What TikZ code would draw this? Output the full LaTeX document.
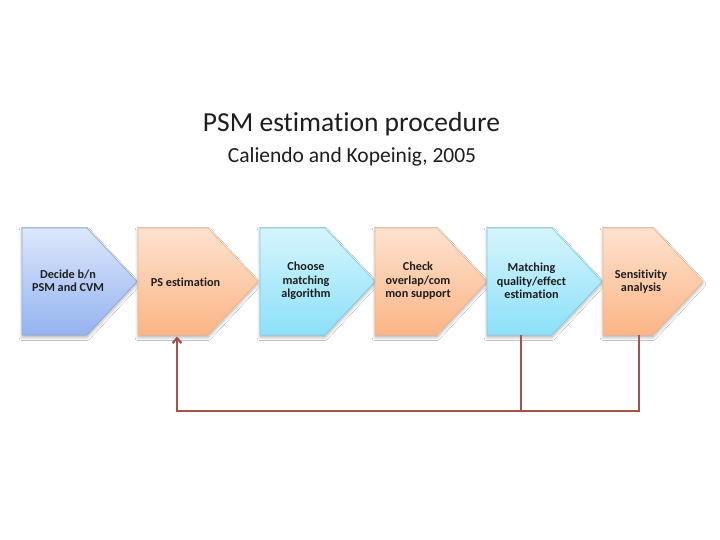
\documentclass[tikz,border=0pt]{standalone}
\usepackage{fontspec}
\setmainfont{Carlito}[Ligatures=CommonOff]
\usetikzlibrary{arrows.meta,calc,shadows.blur}
\definecolor{bluetop}{HTML}{DCE7FB}
\definecolor{bluebot}{HTML}{95B3F0}
\definecolor{blueedge}{HTML}{8BA8DE}
\definecolor{orgtop}{HTML}{FDE2CF}
\definecolor{orgbot}{HTML}{FBB585}
\definecolor{orgedge}{HTML}{F5B487}
\definecolor{cyantop}{HTML}{D6F5FD}
\definecolor{cyanbot}{HTML}{8CE0F8}
\definecolor{cyanedge}{HTML}{7ACFEA}
\definecolor{fbred}{HTML}{A5514E}
\definecolor{txt}{HTML}{1E1E1E}
\tikzset{
  boxframe/.style={minimum height=107pt,inner sep=0pt,outer sep=0pt},
  pentblue/.style={top color=bluetop,bottom color=bluebot,draw=blueedge,line width=0.7pt,
    blur shadow={shadow xshift=0pt,shadow yshift=-2.5pt,shadow blur radius=3pt,shadow opacity=30}},
  pentorange/.style={top color=orgtop,bottom color=orgbot,draw=orgedge,line width=0.7pt,
    blur shadow={shadow xshift=0pt,shadow yshift=-2.5pt,shadow blur radius=3pt,shadow opacity=30}},
  pentcyan/.style={top color=cyantop,bottom color=cyanbot,draw=cyanedge,line width=0.7pt,
    blur shadow={shadow xshift=0pt,shadow yshift=-2.5pt,shadow blur radius=3pt,shadow opacity=30}},
  boxtext/.style={font=\fontsize{12.2}{13.5}\selectfont\bfseries,text=txt,align=center,inner sep=0pt},
  feedback/.style={draw=fbred,line width=2.2pt},
}
\begin{document}
\begin{tikzpicture}[x=1pt,y=-1pt]
\useasboundingbox[fill=white] (0,0) rectangle (720,540);
% titles
\node[font=\fontsize{27.5}{31}\selectfont,text=txt,anchor=base] (title) at (351.5,132) {PSM estimation procedure};
\node[font=\fontsize{21.5}{25}\selectfont,text=txt,anchor=base] (subtitle) at (352,163) {Caliendo and Kopeinig, 2005};
% frames
\node[boxframe,minimum width=115pt] (b1) at (79.5,281.5) {};
\node[boxframe,minimum width=120pt] (b2) at (198,281.5) {};
\node[boxframe,minimum width=115pt] (b3) at (317.5,281.5) {};
\node[boxframe,minimum width=112pt] (b4) at (431,281.5) {};
\node[boxframe,minimum width=115pt] (b5) at (544.5,281.5) {};
\node[boxframe,minimum width=100pt] (b6) at (653,281.5) {};
% pentagons
\foreach \b/\s in {b1/pentblue,b2/pentorange,b3/pentcyan,b4/pentorange,b5/pentcyan,b6/pentorange}{
  \path[\s] (\b.north west) -- ([xshift=-50pt]\b.north east) -- (\b.east)
    -- ([xshift=-50pt]\b.south east) -- (\b.south west) -- cycle;
}
% texts
\node[boxtext] (t1) at (68,281) {Decide b/n\\PSM and CVM};
\node[boxtext] (t2) at (185.5,282) {PS estimation};
\node[boxtext] (t3) at (306,281) {Choose\\matching\\algorithm};
\node[boxtext] (t4) at (418,281) {Check\\overlap/com\\mon support};
\node[boxtext] (t5) at (531.5,281) {Matching\\quality/effect\\estimation};
\node[boxtext] (t6) at (641,281.5) {Sensitivity\\analysis};
% feedback connectors
\coordinate (h) at (0,411);
\coordinate (j2) at ([xshift=39pt,yshift=-1.5pt]b2.south west);
\coordinate (j5) at ([xshift=34pt]b5.south west);
\coordinate (j6) at ([xshift=36pt]b6.south west);
\draw[feedback] (j5) -- (j5 |- h);
\draw[feedback,-{Straight Barb[length=5pt,width=9pt]}] (j6) |- (j2 |- h) -- (j2);
\end{tikzpicture}
\end{document}
